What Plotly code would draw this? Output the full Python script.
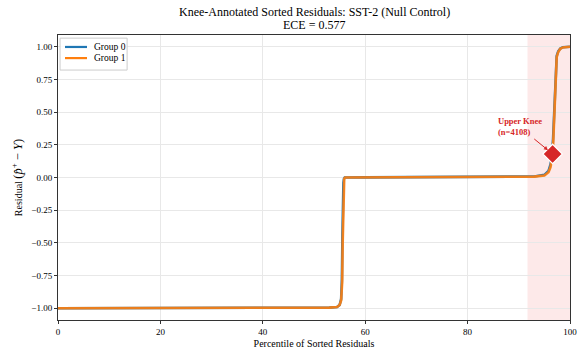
import plotly.graph_objects as go

# Sorted residuals (percentile, residual) per group
g0_pct = [0, 10, 20, 30, 40, 50, 53, 54.5, 55.0, 55.3, 55.45, 55.55, 55.65, 55.75, 55.85, 56.0,
          60, 70, 80, 88, 91, 93, 95, 95.8, 96.2, 96.5, 96.7, 96.9, 97.05, 97.2, 97.4, 97.7,
          98.1, 98.6, 100]
g0_res = [-1.0, -1.0, -1.0, -1.0, -1.0, -0.998, -0.995, -0.99, -0.975, -0.93, -0.78, -0.45,
          -0.15, -0.04, -0.01, 0.0, 0.001, 0.002, 0.003, 0.004, 0.006, 0.008, 0.02, 0.05,
          0.1, 0.18, 0.3, 0.5, 0.7, 0.84, 0.93, 0.965, 0.987, 0.996, 1.0]

g1_pct = [0, 10, 20, 30, 40, 50, 53, 54.5, 55.0, 55.3, 55.5, 55.6, 55.7, 55.8, 55.9, 56.1,
          60, 70, 80, 88, 91, 93, 95, 95.8, 96.2, 96.5, 96.7, 96.9, 97.05, 97.2, 97.4, 97.7,
          98.1, 98.6, 100]
g1_res = [-1.0, -1.0, -1.0, -1.0, -1.0, -0.998, -0.995, -0.99, -0.975, -0.94, -0.8, -0.5,
          -0.2, -0.05, -0.01, 0.0, 0.001, 0.002, 0.003, 0.004, 0.005, 0.007, 0.015, 0.04,
          0.08, 0.15, 0.25, 0.45, 0.65, 0.82, 0.92, 0.96, 0.985, 0.995, 1.0]

group_names = ["Group 0", "Group 1"]
group_colors = ["#1f77b4", "#ff7f0e"]

knee_pct = 96.6
knee_res = 0.18
knee_n = 4108
region_start = 91.7

x_ticks = [0, 20, 40, 60, 80, 100]
y_ticks = [-1.0, -0.75, -0.5, -0.25, 0.0, 0.25, 0.5, 0.75, 1.0]

title_lines = ["Knee-Annotated Sorted Residuals: SST-2 (Null Control)", "ECE = 0.577"]

font_family = "Liberation Serif, Times New Roman, serif"

fig = go.Figure()

fig.add_vrect(x0=region_start, x1=100, fillcolor="#fde9e9", line_width=0, layer="below")
fig.add_hline(y=0, line=dict(color="#999999", width=1, dash="dash"), layer="below")

for name, color, xs, ys, op in zip(group_names, group_colors, [g0_pct, g1_pct],
                                   [g0_res, g1_res], [1.0, 0.9]):
    fig.add_trace(go.Scatter(x=xs, y=ys, mode="lines", name=name, showlegend=False,
                             line=dict(color=color, width=2.6), opacity=op))

fig.add_trace(go.Scatter(x=[knee_pct], y=[knee_res], mode="markers", showlegend=False,
                         marker=dict(symbol="diamond", size=15, color="#d62728",
                                     line=dict(color="white", width=1.2))))

fig.add_annotation(x=knee_pct, y=knee_res, xref="x", yref="y",
                   text=f"<b>Upper Knee<br>(n={knee_n})</b>",
                   showarrow=True, arrowhead=2, arrowsize=0.8, arrowwidth=1,
                   arrowcolor="#d62728", ax=-33, ay=-27, standoff=6,
                   font=dict(family=font_family, size=8.5, color="#d62728"), align="left")

# Two-line title, centred over the plot area
for line_text, ypos in zip(title_lines, [1.081, 1.035]):
    fig.add_annotation(x=0.5, y=ypos, xref="paper", yref="paper", text=line_text,
                       showarrow=False, xanchor="center", yanchor="middle",
                       font=dict(family=font_family, size=12, color="black"))

# Compact legend box in the upper-left corner
fig.add_shape(type="rect", xref="paper", yref="paper", x0=0.004, x1=0.135, y0=0.877, y1=0.989,
              line=dict(color="#cccccc", width=1), fillcolor="rgba(255,255,255,0.85)")
for i, (name, color) in enumerate(zip(group_names, group_colors)):
    yl = 0.958 - i * 0.039
    fig.add_shape(type="line", xref="paper", yref="paper", x0=0.0137, x1=0.0566, y0=yl, y1=yl,
                  line=dict(color=color, width=2.2))
    fig.add_annotation(x=0.066, y=yl, xref="paper", yref="paper", text=name, showarrow=False,
                       xanchor="left", yanchor="middle",
                       font=dict(family=font_family, size=9.5, color="black"))

fig.update_layout(
    width=580, height=351,
    margin=dict(l=58, r=10, t=35, b=31, autoexpand=False),
    paper_bgcolor="white", plot_bgcolor="white",
    font=dict(family=font_family, size=10, color="black"),
    showlegend=False,
    xaxis=dict(range=[0, 100], tickvals=x_ticks, showgrid=True, gridcolor="#e8e8e8",
               zeroline=False, showline=True, linecolor="#333333", linewidth=1, mirror=True,
               ticks="outside", ticklen=3, tickcolor="#333333", automargin=False,
               title=dict(text="Percentile of Sorted Residuals", standoff=4,
                          font=dict(family=font_family, size=10)),
               tickfont=dict(size=9)),
    yaxis=dict(range=[-1.09, 1.09], tickvals=y_ticks, tickformat=".2f", showgrid=True,
               gridcolor="#e8e8e8", zeroline=False, showline=True, linecolor="#333333",
               linewidth=1, mirror=True, ticks="outside", ticklen=3, tickcolor="#333333",
               automargin=False,
               title=dict(text='Residual <span style="font-size:12.5px">(<i>p̂</i><sup>+</sup>'
                               ' − <i>Y</i>)</span>', standoff=6,
                          font=dict(family=font_family, size=10)),
               tickfont=dict(size=9)),
)

fig.write_html("out.html")
